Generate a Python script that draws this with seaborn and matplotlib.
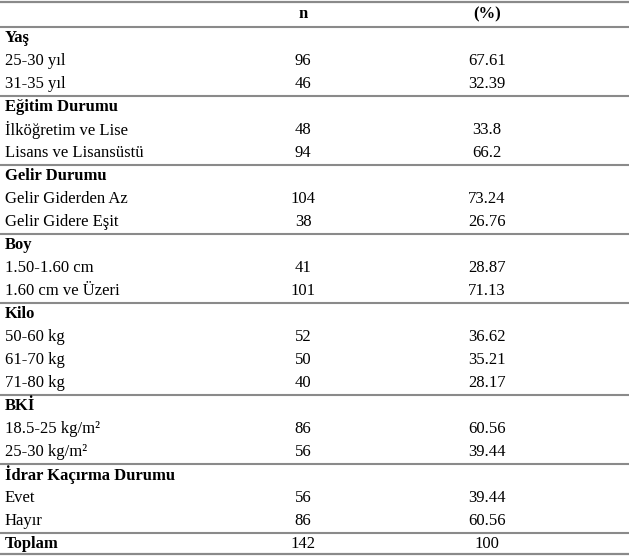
import matplotlib
matplotlib.use("Agg")
import matplotlib.pyplot as plt
import seaborn as sns
import pandas as pd

sns.set_theme(style="white")
plt.rcParams['font.family'] = ['Liberation Serif', 'DejaVu Serif']
plt.rcParams['text.color'] = 'black'

# ---- data ----
groups = ["Yaş", "Eğitim Durumu", "Gelir Durumu", "Boy", "Kilo", "BKİ", "İdrar Kaçırma Durumu"]
yas_labels = ["25-30 yıl", "31-35 yıl"]
yas_n = [96, 46]
yas_pct = ["67.61", "32.39"]
egitim_labels = ["İlköğretim ve Lise", "Lisans ve Lisansüstü"]
egitim_n = [48, 94]
egitim_pct = ["33.8", "66.2"]
gelir_labels = ["Gelir Giderden Az", "Gelir Gidere Eşit"]
gelir_n = [104, 38]
gelir_pct = ["73.24", "26.76"]
boy_labels = ["1.50-1.60 cm", "1.60 cm ve Üzeri"]
boy_n = [41, 101]
boy_pct = ["28.87", "71.13"]
kilo_labels = ["50-60 kg", "61-70 kg", "71-80 kg"]
kilo_n = [52, 50, 40]
kilo_pct = ["36.62", "35.21", "28.17"]
bki_labels = ["18.5-25 kg/m²", "25-30 kg/m²"]
bki_n = [86, 56]
bki_pct = ["60.56", "39.44"]
idrar_labels = ["Evet", "Hayır"]
idrar_n = [56, 86]
idrar_pct = ["39.44", "60.56"]
total_label = "Toplam"
total_n = 142
total_pct = "100"
col_headers = ["n", "(%)"]

sections = [
    (groups[0], yas_labels, yas_n, yas_pct),
    (groups[1], egitim_labels, egitim_n, egitim_pct),
    (groups[2], gelir_labels, gelir_n, gelir_pct),
    (groups[3], boy_labels, boy_n, boy_pct),
    (groups[4], kilo_labels, kilo_n, kilo_pct),
    (groups[5], bki_labels, bki_n, bki_pct),
    (groups[6], idrar_labels, idrar_n, idrar_pct),
]

rows = []
for g, labs, ns, ps in sections:
    rows.append(dict(label=g, n="", pct="", bold=True))
    for l, n, p in zip(labs, ns, ps):
        rows.append(dict(label=l, n=str(n), pct=p, bold=False))
df = pd.DataFrame(rows)

W, H = 631, 556
fig = plt.figure(figsize=(W / 100, H / 100), dpi=100)
ax = fig.add_axes([0, 0, 1, 1])
ax.set_xlim(0, W)
ax.set_ylim(H, 0)
ax.axis("off")

fs = 12.0
tc = "black"
line_color = "#8a8a8a"
x_label, x_n, x_pct = 5, 303, 487
x_end = 629

top_line = 1.5
header_line = 26.5
row_h = 23.0

ax.plot([0, x_end], [top_line, top_line], color=line_color, lw=1.6, solid_capstyle="butt")
ax.plot([0, x_end], [header_line, header_line], color=line_color, lw=1.5, solid_capstyle="butt")
ax.text(x_n, 14, col_headers[0], ha="center", va="center", fontsize=fs, fontweight="bold", color=tc)
ax.text(x_pct, 14, col_headers[1], ha="center", va="center", fontsize=fs, fontweight="bold", color=tc)

y = header_line
i = 0
for g, labs, ns, ps in sections:
    nrows = 1 + len(labs)
    for k in range(nrows):
        r = df.iloc[i]
        yc = y + row_h * (k + 0.5)
        ax.text(x_label, yc, r["label"], ha="left", va="center", fontsize=fs,
                fontweight="bold" if r["bold"] else "normal", color=tc)
        if r["n"]:
            ax.text(x_n, yc, r["n"], ha="center", va="center", fontsize=fs, color=tc)
            ax.text(x_pct, yc, r["pct"], ha="center", va="center", fontsize=fs, color=tc)
        i += 1
    y += row_h * nrows
    ax.plot([0, x_end], [y, y], color=line_color, lw=1.5, solid_capstyle="butt")

yc = y + 11.5
ax.text(x_label, yc, total_label, ha="left", va="center", fontsize=fs, fontweight="bold", color=tc)
ax.text(x_n, yc, str(total_n), ha="center", va="center", fontsize=fs, color=tc)
ax.text(x_pct, yc, total_pct, ha="center", va="center", fontsize=fs, color=tc)
bottom = 554
ax.plot([0, x_end], [bottom, bottom], color=line_color, lw=1.6, solid_capstyle="butt")

fig.savefig("out.png", dpi=100, facecolor="white")
